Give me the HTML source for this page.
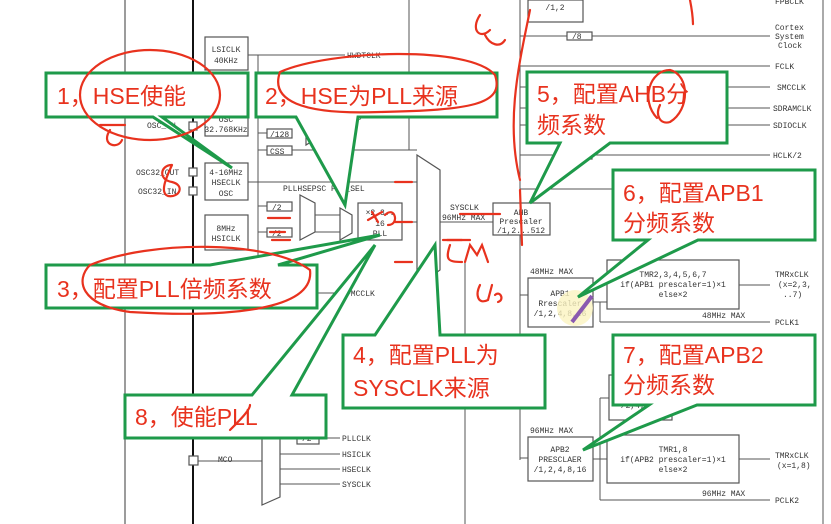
<!DOCTYPE html>
<html><head><meta charset="utf-8"><style>
html,body{margin:0;padding:0;background:#fff;width:831px;height:524px;overflow:hidden}
svg{display:block}
.t{font-family:"Liberation Mono",monospace;font-size:8px;fill:#333}
.c{font-family:"Liberation Sans","Noto Sans CJK SC",sans-serif;font-size:23px;fill:#e8321e}
.g{fill:#fff;stroke:#1e9a4a;stroke-width:3}
.ln{stroke:#555;stroke-width:1;fill:none}
.bx{fill:#fff;stroke:#555;stroke-width:1.2}
.r{stroke:#e8321e;stroke-width:2.2;fill:none;stroke-linecap:round}
</style></head><body>
<svg width="831" height="524" viewBox="0 0 831 524" xmlns="http://www.w3.org/2000/svg">
<rect width="831" height="524" fill="#fff"/>
<line x1="125" y1="0" x2="125" y2="524" stroke="#666" stroke-width="1.3"/>
<line x1="193" y1="0" x2="193" y2="524" stroke="#111" stroke-width="2"/>
<line x1="409" y1="0" x2="409" y2="150" class="ln"/>
<line x1="465" y1="260" x2="465" y2="524" class="ln"/>
<line x1="520" y1="0" x2="520" y2="460" class="ln"/>
<line x1="823" y1="0" x2="823" y2="524" class="ln"/>
<line x1="258" y1="55" x2="258" y2="300" class="ln"/>
<rect x="205" y="37" width="43" height="33" class="bx"/><text x="226" y="52" class="t" text-anchor="middle">LSICLK</text><text x="226" y="63" class="t" text-anchor="middle">40KHz</text>
<rect x="205" y="100" width="43" height="36" class="bx"/><text x="226" y="112" class="t" text-anchor="middle">LSECLK</text><text x="226" y="122" class="t" text-anchor="middle">OSC</text><text x="226" y="132" class="t" text-anchor="middle">32.768KHz</text>
<rect x="205" y="163" width="43" height="37" class="bx"/><text x="226" y="175" class="t" text-anchor="middle">4-16MHz</text><text x="226" y="185" class="t" text-anchor="middle">HSECLK</text><text x="226" y="196" class="t" text-anchor="middle">OSC</text>
<rect x="205" y="215" width="43" height="35" class="bx"/><text x="226" y="231" class="t" text-anchor="middle">8MHz</text><text x="226" y="241" class="t" text-anchor="middle">HSICLK</text>
<g class="bx"><rect x="189" y="104" width="8" height="8"/><rect x="189" y="122" width="8" height="8"/><rect x="189" y="168" width="8" height="8"/><rect x="189" y="187" width="8" height="8"/><rect x="189" y="456" width="9" height="9"/></g>
<text x="143" y="112" class="t">OSC_OUT</text><text x="147" y="128" class="t">OSC_IN</text>
<text x="136" y="175" class="t">OSC32_OUT</text><text x="138" y="194" class="t">OSC32_IN</text>
<g class="ln">
<line x1="248" y1="55" x2="345" y2="55"/><line x1="248" y1="182" x2="417" y2="182"/><line x1="258" y1="150" x2="417" y2="150"/>
<line x1="258" y1="133" x2="268" y2="133"/><line x1="258" y1="206" x2="268" y2="206"/><line x1="258" y1="232" x2="268" y2="232"/>
<line x1="258" y1="293" x2="340" y2="293"/><line x1="300" y1="215" x2="340" y2="215"/><line x1="300" y1="232" x2="340" y2="232"/>
<line x1="402" y1="222" x2="417" y2="222"/><line x1="440" y1="222" x2="493" y2="222"/><line x1="550" y1="222" x2="520" y2="222"/>
<line x1="520" y1="36" x2="770" y2="36"/><line x1="520" y1="66" x2="770" y2="66"/><line x1="520" y1="87" x2="770" y2="87"/><line x1="520" y1="108" x2="770" y2="108"/><line x1="520" y1="125" x2="770" y2="125"/><line x1="520" y1="155" x2="770" y2="155"/><line x1="520" y1="189" x2="770" y2="189"/>
<line x1="520" y1="295" x2="528" y2="295"/><line x1="520" y1="458" x2="528" y2="458"/>
<line x1="593" y1="302" x2="607" y2="302"/><line x1="600" y1="302" x2="600" y2="322"/><line x1="600" y1="322" x2="770" y2="322"/>
<line x1="739" y1="285" x2="770" y2="285"/><line x1="739" y1="459" x2="770" y2="459"/>
<line x1="593" y1="459" x2="607" y2="459"/><line x1="600" y1="398" x2="600" y2="500"/><line x1="600" y1="398" x2="770" y2="398"/><line x1="600" y1="500" x2="770" y2="500"/>
<line x1="198" y1="461" x2="262" y2="461"/><line x1="280" y1="438" x2="340" y2="438"/><line x1="280" y1="454" x2="340" y2="454"/><line x1="280" y1="469" x2="340" y2="469"/><line x1="280" y1="484" x2="340" y2="484"/>
</g>
<g class="bx"><rect x="267" y="129" width="25" height="9"/><rect x="267" y="146" width="25" height="9"/><rect x="267" y="202" width="25" height="9"/><rect x="267" y="228" width="25" height="9"/><rect x="567" y="32" width="25" height="8"/><rect x="567" y="151" width="25" height="8"/><rect x="567" y="104" width="35" height="8"/><rect x="670" y="104" width="35" height="8"/><rect x="297" y="432" width="22" height="12"/></g>
<text x="270" y="137" class="t">/128</text><text x="270" y="154" class="t">CSS</text><text x="272" y="210" class="t">/2</text><text x="272" y="236" class="t">/2</text><text x="572" y="39" class="t">/8</text><text x="572" y="158" class="t">/2</text><text x="569" y="111" class="t">DMCCLK</text><text x="672" y="111" class="t">/1,2,4</text><text x="302" y="441" class="t">/2</text>
<g class="bx"><polygon points="306,90 322,100 322,135 306,145"/><polygon points="300,195 315,203 315,232 300,240"/><polygon points="340,208 352,215 352,233 340,240"/><polygon points="417,155 440,170 440,270 417,287"/><polygon points="262,430 280,420 280,497 262,505"/></g>
<rect x="358" y="203" width="44" height="37" class="bx"/><text x="380" y="215" class="t" text-anchor="middle">×2,3..</text><text x="380" y="226" class="t" text-anchor="middle">16</text><text x="380" y="236" class="t" text-anchor="middle">PLL</text>
<text x="283" y="191" class="t">PLLHSEPSC PLL_SEL</text><text x="282" y="78" class="t">RTCSEL[1:0]</text>
<text x="347" y="58" class="t">HWDTCLK</text><text x="347" y="120" class="t">RTC</text><text x="346" y="296" class="t">FMCCLK</text><text x="412" y="300" class="t">SCSEL</text>
<text x="450" y="210" class="t">SYSCLK</text><text x="442" y="220" class="t">96MHz MAX</text>
<rect x="493" y="203" width="57" height="32" class="bx"/><text x="521" y="215" class="t" text-anchor="middle">AHB</text><text x="521" y="224" class="t" text-anchor="middle">Prescaler</text><text x="521" y="233" class="t" text-anchor="middle">/1,2...512</text>
<rect x="528" y="278" width="65" height="49" class="bx"/><text x="560" y="296" class="t" text-anchor="middle">APB1</text><text x="560" y="306" class="t" text-anchor="middle">Rrescaler</text><text x="560" y="316" class="t" text-anchor="middle">/1,2,4,8,16</text>
<rect x="528" y="437" width="65" height="44" class="bx"/><text x="560" y="452" class="t" text-anchor="middle">APB2</text><text x="560" y="462" class="t" text-anchor="middle">PRESCLAER</text><text x="560" y="472" class="t" text-anchor="middle">/1,2,4,8,16</text>
<text x="530" y="274" class="t">48MHz MAX</text><text x="530" y="433" class="t">96MHz MAX</text>
<rect x="607" y="260" width="132" height="49" class="bx"/><text x="673" y="277" class="t" text-anchor="middle">TMR2,3,4,5,6,7</text><text x="673" y="287" class="t" text-anchor="middle">if(APB1 prescaler=1)×1</text><text x="673" y="297" class="t" text-anchor="middle">else×2</text>
<rect x="607" y="435" width="132" height="48" class="bx"/><text x="673" y="452" class="t" text-anchor="middle">TMR1,8</text><text x="673" y="462" class="t" text-anchor="middle">if(APB2 prescaler=1)×1</text><text x="673" y="472" class="t" text-anchor="middle">else×2</text>
<rect x="609" y="375" width="63" height="45" class="bx"/><text x="640" y="398" class="t" text-anchor="middle">Prescaler</text><text x="640" y="408" class="t" text-anchor="middle">/2,4,6,8</text>
<rect x="528" y="0" width="55" height="22" class="bx"/><text x="555" y="10" class="t" text-anchor="middle">/1,2</text>
<text x="702" y="318" class="t">48MHz MAX</text><text x="702" y="496" class="t">96MHz MAX</text>
<g class="t"><text x="775" y="4">FPBCLK</text><text x="775" y="30">Cortex</text><text x="775" y="39">System</text><text x="778" y="48">Clock</text><text x="775" y="69">FCLK</text><text x="777" y="90">SMCCLK</text><text x="773" y="111">SDRAMCLK</text><text x="773" y="128">SDIOCLK</text><text x="773" y="158">HCLK/2</text><text x="775" y="192">HCLK</text><text x="775" y="277">TMRxCLK</text><text x="778" y="287">(x=2,3,</text><text x="783" y="297">..7)</text><text x="775" y="325">PCLK1</text><text x="775" y="401">ADCCLK</text><text x="775" y="458">TMRxCLK</text><text x="777" y="468">(x=1,8)</text><text x="775" y="503">PCLK2</text><text x="342" y="441">PLLCLK</text><text x="342" y="457">HSICLK</text><text x="342" y="472">HSECLK</text><text x="342" y="487">SYSCLK</text><text x="218" y="462">MCO</text><text x="264" y="419">MCO</text></g>
<circle cx="575" cy="308" r="18" fill="#fbf4c0" opacity="0.8"/>
<line x1="572" y1="322" x2="592" y2="296" stroke="#8a5ab0" stroke-width="4"/>
<g class="g">
<polygon points="46,73 248,73 248,117 162,117 232,168 153,117 46,117"/>
<polygon points="256,73 497,73 497,117 358,117 345,205 296,117 256,117"/>
<polygon points="46,265 210,265 380,235 278,265 317,265 317,308 46,308"/>
<polygon points="343,335 375,335 435,245 440,335 545,335 545,408 343,408"/>
<polygon points="527,72 727,72 727,143 610,143 530,203 560,143 527,143"/>
<polygon points="613,170 815,170 815,240 698,240 578,297 648,240 613,240"/>
<polygon points="613,335 815,335 815,405 697,405 583,450 649,405 613,405"/>
<polygon points="125,395 252,395 375,245 292,395 326,395 326,438 125,438"/>
</g>
<g class="c">
<text x="57" y="104">1，HSE使能</text>
<text x="265" y="104">2，HSE为PLL来源</text>
<text x="57" y="297">3，配置PLL倍频系数</text>
<text x="353" y="363">4，配置PLL为</text><text x="353" y="396">SYSCLK来源</text>
<text x="537" y="102">5，配置AHB分</text><text x="537" y="133">频系数</text>
<text x="623" y="201">6，配置APB1</text><text x="623" y="231">分频系数</text>
<text x="623" y="363">7，配置APB2</text><text x="623" y="393">分频系数</text>
<text x="135" y="425">8，使能PLL</text>
</g>
<g class="r">
<ellipse cx="150" cy="95" rx="70" ry="45"/>
<path d="M280,72 C330,50 470,45 495,75 C505,105 470,110 380,112 C300,115 270,100 280,72"/>
<path d="M90,265 C150,240 270,240 310,270 C315,310 230,318 130,312 C80,305 75,280 90,265"/>
<path d="M230,430 C240,420 250,410 250,405"/>
<path d="M100,125 L125,125 M110,130 C100,145 118,150 122,140"/>
<path d="M172,165 C160,165 158,180 172,182 C185,185 180,198 168,196 C160,193 165,180 172,165"/>
<path d="M480,15 C470,30 480,40 490,30 M485,35 C490,45 500,48 505,40"/>
<path d="M530,10 C520,60 505,120 520,180 M520,190 L522,245"/>
<path d="M690,0 C693,15 693,25 693,24"/>
<path d="M657,118 C640,100 650,70 670,70 C690,75 690,110 670,122 C660,125 655,115 660,105"/>
<path d="M395,182 L412,182 M395,222 L412,222 M395,262 L412,262 M443,240 L470,240"/>
<path d="M368,220 L382,212 M372,212 L378,222 M385,215 C395,205 400,225 388,225"/>
<path d="M447,240 L462,240 M450,245 C445,260 448,262 462,262 M465,262 L470,245 L477,255 L482,245 L488,262"/>
<path d="M480,285 C475,295 478,305 488,300 L492,285 M495,295 C500,290 505,300 498,302"/>
<path d="M268,218 L290,218 M270,232 L285,232 M272,240 L290,240"/>
<path d="M460,214 L500,214"/>
</g>
</svg>
</body></html>
